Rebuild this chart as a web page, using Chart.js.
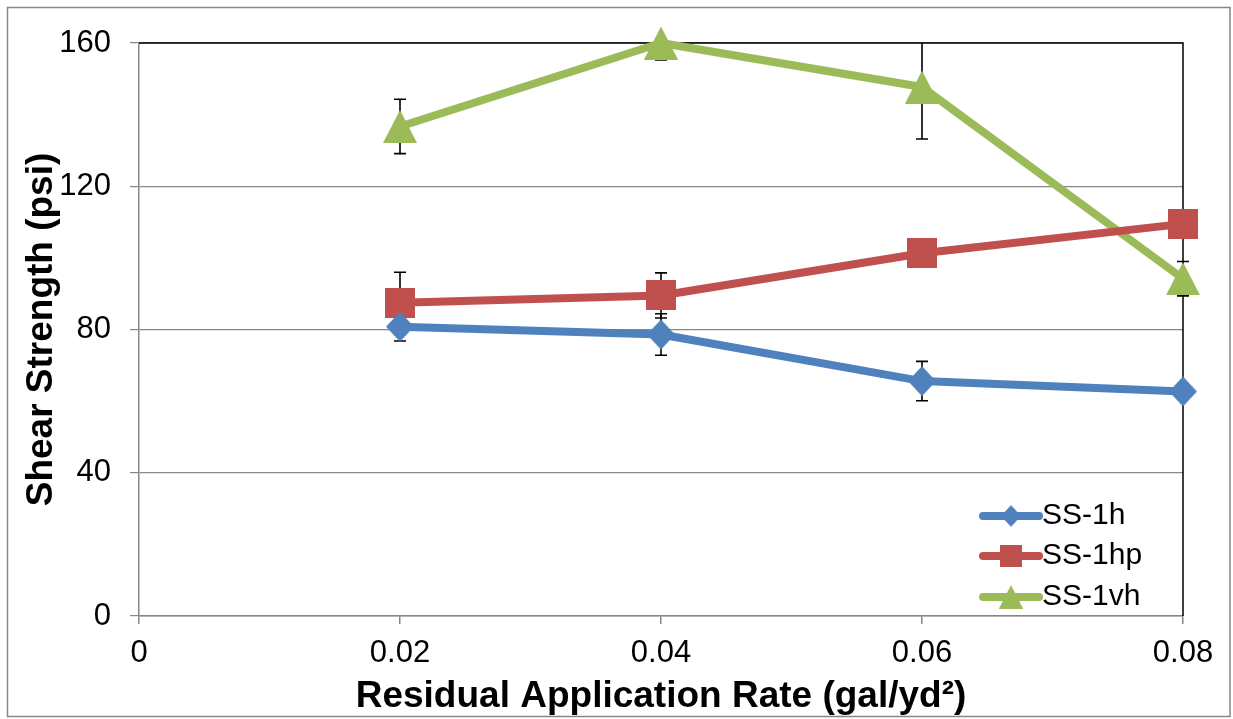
<!DOCTYPE html>
<html>
<head>
<meta charset="utf-8">
<script src="https://cdn.jsdelivr.net/npm/chart.js@4/dist/chart.umd.min.js"></script>
<style>
  html, body { margin: 0; padding: 0; background: #ffffff; }
  #wrap { position: relative; width: 1233px; height: 719px; }
  canvas { display: block; }
</style>
</head>
<body>
<div id="wrap"><canvas id="chart" width="1233" height="719"></canvas></div>
<script>
// Residual application rates (gal/yd²)
const rates = [0.02, 0.04, 0.06, 0.08];

// Mean shear strength (psi) per emulsion
const ss1h  = [80.8, 78.6, 65.6, 62.7];
const ss1hp = [87.5, 89.5, 101.3, 109.5];
const ss1vh = [136.7, 160.0, 147.7, 94.2];

// Standard deviations (psi) for the error bars
const ss1hErr  = [4.0, 5.8, 5.5, 2.0];
const ss1hpErr = [8.5, 6.3, 3.8, 3.0];
const ss1vhErr = [7.6, 4.7, 14.5, 4.8];

const seriesNames = ['SS-1h', 'SS-1hp', 'SS-1vh'];
const xTicks = [0, 0.02, 0.04, 0.06, 0.08];
const yTicks = [0, 40, 80, 120, 160];

const FONT = "'Liberation Sans', Arial, sans-serif";
const BLUE = '#4F81BD', RED = '#C0504D', GREEN = '#9BBB59';
const AXIS = '#868686';

// Marker sprites, centred on their bounding box
function makeMarker(kind, color) {
  const c = document.createElement('canvas');
  const g = c.getContext('2d');
  if (kind === 'diamond') {
    c.width = 28; c.height = 30;
    g.fillStyle = color;
    g.beginPath();
    g.moveTo(14, 0); g.lineTo(28, 15); g.lineTo(14, 30); g.lineTo(0, 15);
    g.closePath(); g.fill();
  } else if (kind === 'square') {
    c.width = 30; c.height = 30;
    g.fillStyle = color;
    g.fillRect(0, 0, 30, 30);
  } else {
    c.width = 34; c.height = 33;
    g.fillStyle = color;
    g.beginPath();
    g.moveTo(17, 0); g.lineTo(34, 33); g.lineTo(0, 33);
    g.closePath(); g.fill();
  }
  return c;
}
const markers = [makeMarker('diamond', BLUE), makeMarker('square', RED), makeMarker('triangle', GREEN)];

function toPoints(vals) { return vals.map((v, i) => ({ x: rates[i], y: v })); }

const errs = [ss1hErr, ss1hpErr, ss1vhErr];

function lineDataset(label, vals, color, marker) {
  return {
    label: label,
    data: toPoints(vals),
    borderColor: color,
    backgroundColor: color,
    borderWidth: 8,
    borderCapStyle: 'round',
    borderJoinStyle: 'round',
    pointStyle: marker,
    pointRadius: 15,
    pointHoverRadius: 15,
    tension: 0,
    clip: false
  };
}

// Plot frame (top/right) plus the outer chart border
const framePlugin = {
  id: 'frame',
  beforeDraw(chart) {
    const ctx = chart.ctx;
    ctx.save();
    ctx.strokeStyle = AXIS;
    ctx.lineWidth = 1.5;
    ctx.strokeRect(7.5, 7.5, 1222.5, 709);
    ctx.restore();
  },
  beforeDatasetsDraw(chart) {
    const { ctx, chartArea: a } = chart;
    ctx.save();
    ctx.strokeStyle = '#000000';
    ctx.lineWidth = 1.5;
    ctx.beginPath();
    ctx.moveTo(a.left, a.top);
    ctx.lineTo(a.right, a.top);
    ctx.lineTo(a.right, a.bottom);
    ctx.stroke();
    ctx.restore();
  }
};

// Vertical error bars with caps, drawn beneath the series
const errorBarPlugin = {
  id: 'errorBars',
  beforeDatasetsDraw(chart) {
    const { ctx, chartArea: a, scales } = chart;
    const xs = scales.x, ys = scales.y;
    ctx.save();
    ctx.beginPath();
    ctx.rect(a.left - 10, a.top, a.right - a.left + 20, a.bottom - a.top);
    ctx.clip();
    ctx.strokeStyle = '#000000';
    ctx.lineWidth = 1.6;
    chart.data.datasets.forEach((ds, i) => {
      ds.data.forEach((p, j) => {
        const e = errs[i][j];
        const x = xs.getPixelForValue(p.x);
        const y1 = ys.getPixelForValue(p.y + e);
        const y2 = ys.getPixelForValue(p.y - e);
        ctx.beginPath();
        ctx.moveTo(x, y1); ctx.lineTo(x, y2);
        ctx.moveTo(x - 6, y1); ctx.lineTo(x + 6, y1);
        ctx.moveTo(x - 6, y2); ctx.lineTo(x + 6, y2);
        ctx.stroke();
      });
    });
    ctx.restore();
  }
};

// Legend inside the plot, lower right
const legendPlugin = {
  id: 'insideLegend',
  afterDatasetsDraw(chart) {
    const ctx = chart.ctx;
    const rowsY = [516, 556, 597];
    const x0 = 983, x1 = 1039, xm = 1011;
    ctx.save();
    chart.data.datasets.forEach((ds, i) => {
      const y = rowsY[i];
      ctx.strokeStyle = ds.borderColor;
      ctx.lineWidth = 8;
      ctx.lineCap = 'round';
      ctx.beginPath();
      ctx.moveTo(x0, y); ctx.lineTo(x1, y);
      ctx.stroke();
      const m = markers[i];
      const s = 0.72;
      ctx.drawImage(m, xm - m.width * s / 2, y - m.height * s / 2, m.width * s, m.height * s);
      ctx.fillStyle = '#000000';
      ctx.font = '30px ' + FONT;
      ctx.textAlign = 'left';
      ctx.textBaseline = 'middle';
      ctx.fillText(ds.label, 1042, y);
    });
    ctx.restore();
  }
};

new Chart(document.getElementById('chart'), {
  type: 'line',
  data: {
    datasets: [
      lineDataset(seriesNames[0], ss1h, BLUE, markers[0]),
      lineDataset(seriesNames[1], ss1hp, RED, markers[1]),
      lineDataset(seriesNames[2], ss1vh, GREEN, markers[2])
    ]
  },
  options: {
    responsive: false,
    animation: false,
    devicePixelRatio: 1,
    layout: { padding: { left: 0, top: 43, right: 50, bottom: 0 } },
    plugins: {
      legend: { display: false },
      tooltip: { enabled: false }
    },
    scales: {
      x: {
        type: 'linear',
        min: xTicks[0],
        max: xTicks[xTicks.length - 1],
        afterBuildTicks(scale) { scale.ticks = xTicks.map(v => ({ value: v })); },
        afterFit(scale) { scale.height = 103; },
        grid: { drawOnChartArea: false, drawTicks: true, tickLength: 8, color: AXIS, lineWidth: 1.5 },
        border: { color: AXIS, width: 1.5 },
        ticks: {
          padding: 11,
          color: '#000000',
          font: { family: FONT, size: 31 },
          callback: v => (v === 0 ? '0' : v.toFixed(2))
        },
        title: {
          display: true,
          text: 'Residual Application Rate (gal/yd²)',
          color: '#000000',
          font: { family: FONT, size: 37, weight: 'bold' },
          padding: { top: 1, bottom: 0 }
        }
      },
      y: {
        type: 'linear',
        min: yTicks[0],
        max: yTicks[yTicks.length - 1],
        afterBuildTicks(scale) { scale.ticks = yTicks.map(v => ({ value: v })); },
        afterFit(scale) { scale.width = 139; },
        grid: { drawOnChartArea: true, drawTicks: true, tickLength: 9, color: AXIS, lineWidth: 1.2 },
        border: { color: AXIS, width: 1.5 },
        ticks: {
          padding: 19,
          color: '#000000',
          font: { family: FONT, size: 31 }
        },
        title: {
          display: true,
          text: 'Shear Strength (psi)',
          color: '#000000',
          font: { family: FONT, size: 37, weight: 'bold' },
          padding: { top: 20, bottom: 0 }
        }
      }
    }
  },
  plugins: [framePlugin, errorBarPlugin, legendPlugin]
});
</script>
</body>
</html>
